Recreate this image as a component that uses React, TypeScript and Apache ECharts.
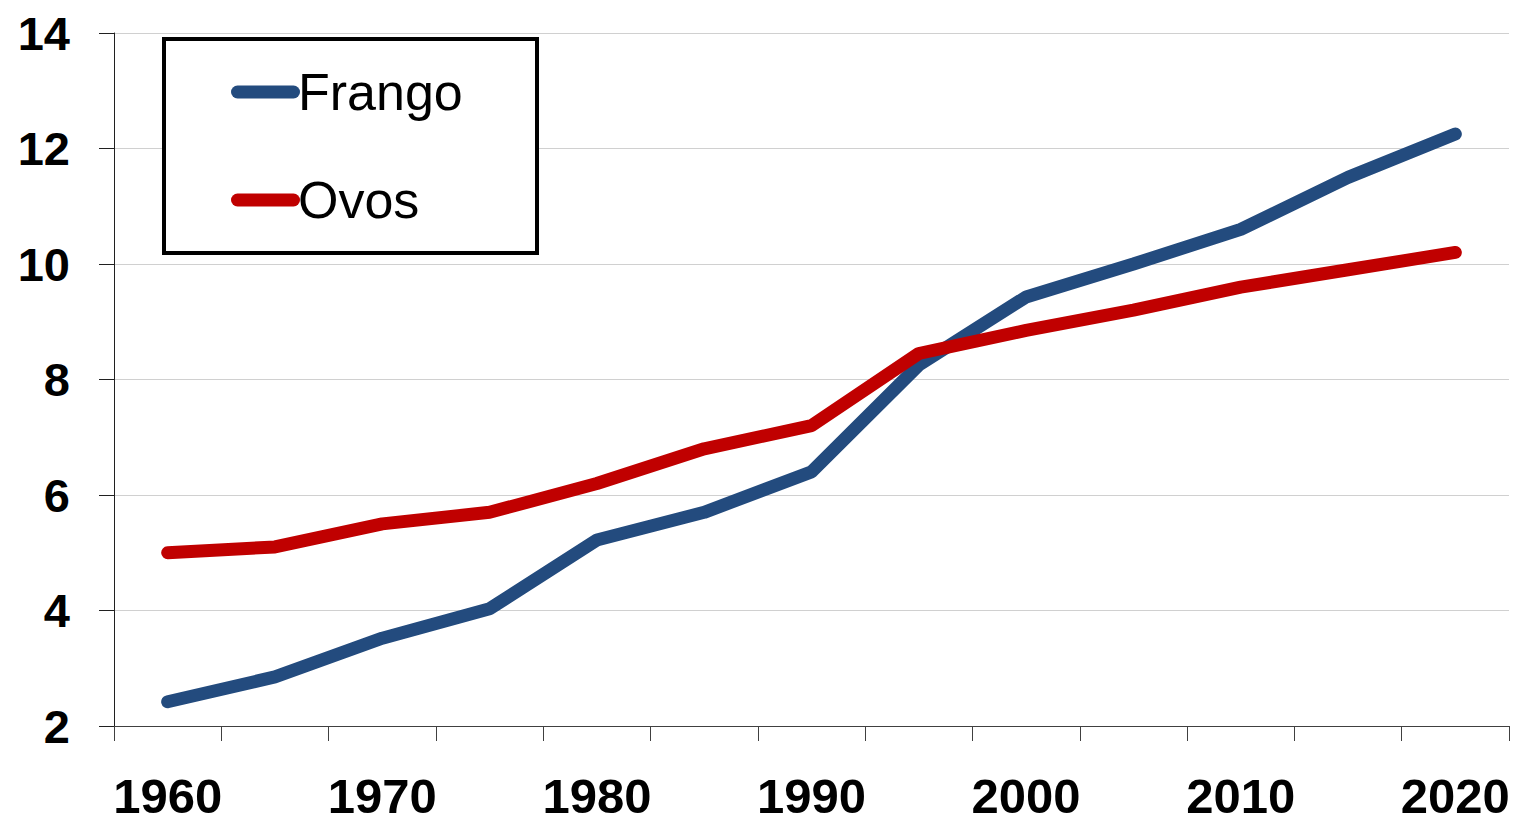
import React, { useEffect, useRef } from "react";
import * as echarts from "echarts";

const years = ["1960", "1965", "1970", "1975", "1980", "1985", "1990", "1995", "2000", "2005", "2010", "2015", "2020"];
const frango = [2.42, 2.85, 3.52, 4.03, 5.22, 5.7, 6.4, 8.25, 9.43, 10.0, 10.6, 11.5, 12.25];
const ovos = [5.0, 5.1, 5.5, 5.7, 6.2, 6.8, 7.2, 8.45, 8.85, 9.2, 9.6, 9.9, 10.2];
const seriesNames = ["Frango", "Ovos"];
const yTicks = { min: 2, max: 14, interval: 2 };

const capsule = "path://M6.5,0 L62.5,0 A6.5,6.5 0 0 1 62.5,13 L6.5,13 A6.5,6.5 0 0 1 6.5,0 Z";

export default function App() {
  const ref = useRef<HTMLDivElement>(null);
  useEffect(() => {
    const chart = echarts.init(ref.current!, null, { renderer: "svg" });
    const font = "'Liberation Sans', Arial, sans-serif";
    chart.setOption({
      animation: false,
      backgroundColor: "#ffffff",
      grid: { left: 114, right: 17, top: 33, bottom: 95, containLabel: false },
      graphic: [
        {
          type: "rect",
          z: 3,
          shape: { x: 164, y: 39, width: 373, height: 214 },
          style: { fill: "#ffffff", stroke: "#000000", lineWidth: 4 },
        },
      ],
      legend: {
        data: seriesNames,
        orient: "vertical",
        left: 226,
        top: 59,
        z: 5,
        itemWidth: 69,
        itemHeight: 13,
        itemGap: 52,
        icon: capsule,
        symbolKeepAspect: false,
        textStyle: { fontFamily: font, fontSize: 52, color: "#000", lineHeight: 56, padding: [0, 0, 0, -7] },
      },
      xAxis: {
        type: "category",
        data: years,
        boundaryGap: true,
        axisLine: { lineStyle: { color: "#404040", width: 1 } },
        axisTick: { show: true, interval: 0, length: 15, lineStyle: { color: "#404040" } },
        axisLabel: {
          interval: 1,
          margin: 45,
          fontFamily: font,
          fontSize: 49,
          fontWeight: "bold",
          color: "#000",
        },
        splitLine: { show: false },
      },
      yAxis: {
        type: "value",
        min: yTicks.min,
        max: yTicks.max,
        interval: yTicks.interval,
        axisLine: { show: true, lineStyle: { color: "#202020", width: 1 } },
        axisTick: { show: true, length: 15, lineStyle: { color: "#202020" } },
        axisLabel: {
          margin: 44,
          fontFamily: font,
          fontSize: 47,
          fontWeight: "bold",
          color: "#000",
        },
        splitLine: { show: true, lineStyle: { color: "#d0d0d0", width: 1 } },
      },
      series: [
        {
          name: seriesNames[0],
          type: "line",
          data: frango,
          symbol: "none",
          color: "#234B7E",
          lineStyle: { width: 13, color: "#234B7E", cap: "round", join: "bevel" },
          z: 2,
        },
        {
          name: seriesNames[1],
          type: "line",
          data: ovos,
          symbol: "none",
          color: "#C00000",
          lineStyle: { width: 13, color: "#C00000", cap: "round", join: "bevel" },
          z: 2,
        },
      ],
    });
    return () => chart.dispose();
  }, []);
  return (
    <div
      ref={ref}
      style={{ position: "fixed", left: 0, top: 0, width: 1526, height: 821, background: "#fff" }}
    />
  );
}
